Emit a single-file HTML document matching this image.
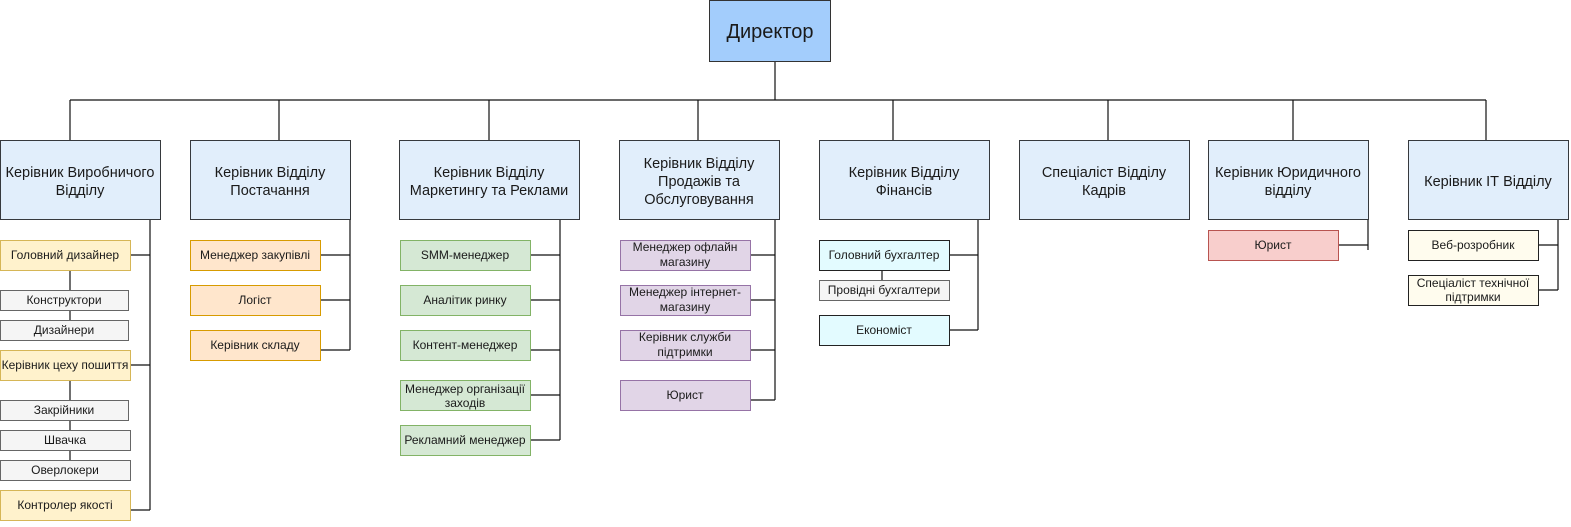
<!DOCTYPE html>
<html><head><meta charset="utf-8"><style>
html,body{margin:0;padding:0;background:#fff;}
svg text{font-family:"Liberation Sans",sans-serif;fill:#1a1a1a;}
</style></head><body>
<svg width="1571" height="522" xmlns="http://www.w3.org/2000/svg">
<g stroke="#111" stroke-width="1.2" fill="none">
<path d="M775 61V100M70 100H1486M70 100V140M279 100V140M489 100V140M698 100V140M893 100V140M1108 100V140M1293 100V140M1486 100V140"/>
<path d="M150 219V510M130 255H150M130 365H150M130 510H150M70 270V290M70 310V320M70 380V400M70 420V430M70 450V460"/>
<path d="M350 219V350M320 255H350M320 300H350M320 350H350"/>
<path d="M560 219V440M530 255H560M530 300H560M530 350H560M530 395H560M530 440H560"/>
<path d="M775 219V400M750 255H775M750 300H775M750 350H775M750 400H775"/>
<path d="M978 219V330M949 255H978M949 330H978M882 270V280"/>
<path d="M1368 219V250M1338 245H1368"/>
<path d="M1558 219V290M1538 245H1558M1538 290H1558"/>
</g>
<g stroke-width="1">
<rect x="709.5" y="0.5" width="121" height="61" fill="#a3cdfc" stroke="#333"/>
<g fill="#e1eefb" stroke="#36393d">
<rect x="0.5" y="140.5" width="160" height="79"/><rect x="190.5" y="140.5" width="160" height="79"/>
<rect x="399.5" y="140.5" width="180" height="79"/><rect x="619.5" y="140.5" width="160" height="79"/>
<rect x="819.5" y="140.5" width="170" height="79"/><rect x="1019.5" y="140.5" width="170" height="79"/>
<rect x="1208.5" y="140.5" width="160" height="79"/><rect x="1408.5" y="140.5" width="160" height="79"/>
</g>
<g fill="#fff2cc" stroke="#d6b656">
<rect x="0.5" y="240.5" width="130" height="30"/><rect x="0.5" y="350.5" width="130" height="30"/><rect x="0.5" y="490.5" width="130" height="30"/>
</g>
<g fill="#f5f5f5" stroke="#666">
<rect x="0.5" y="290.5" width="128" height="20"/><rect x="0.5" y="320.5" width="128" height="20"/>
<rect x="0.5" y="400.5" width="128" height="20"/><rect x="0.5" y="430.5" width="130" height="20"/><rect x="0.5" y="460.5" width="130" height="20"/>
<rect x="819.5" y="280.5" width="130" height="20"/>
</g>
<g fill="#ffe6cc" stroke="#d79b00">
<rect x="190.5" y="240.5" width="130" height="30"/><rect x="190.5" y="285.5" width="130" height="30"/><rect x="190.5" y="330.5" width="130" height="30"/>
</g>
<g fill="#d5e8d4" stroke="#82b366">
<rect x="400.5" y="240.5" width="130" height="30"/><rect x="400.5" y="285.5" width="130" height="30"/><rect x="400.5" y="330.5" width="130" height="30"/><rect x="400.5" y="380.5" width="130" height="30"/><rect x="400.5" y="425.5" width="130" height="30"/>
</g>
<g fill="#e1d5e7" stroke="#9673a6">
<rect x="620.5" y="240.5" width="130" height="30"/><rect x="620.5" y="285.5" width="130" height="30"/><rect x="620.5" y="330.5" width="130" height="30"/><rect x="620.5" y="380.5" width="130" height="30"/>
</g>
<g fill="#e3fbff" stroke="#222">
<rect x="819.5" y="240.5" width="130" height="30"/><rect x="819.5" y="315.5" width="130" height="30"/>
</g>
<rect x="1208.5" y="230.5" width="130" height="30" fill="#f8cecc" stroke="#b85450"/>
<g fill="#fffcee" stroke="#222">
<rect x="1408.5" y="230.5" width="130" height="30"/><rect x="1408.5" y="275.5" width="130" height="30"/>
</g>
</g>
<text x="770" y="38" font-size="20" text-anchor="middle">Директор</text>
<g font-size="14.5" text-anchor="middle">
<text x="80" y="177">Керівник Виробничого</text><text x="80" y="195">Відділу</text>
<text x="270" y="177">Керівник Відділу</text><text x="270" y="195">Постачання</text>
<text x="489" y="177">Керівник Відділу</text><text x="489" y="195">Маркетингу та Реклами</text>
<text x="699" y="168">Керівник Відділу</text><text x="699" y="186">Продажів та</text><text x="699" y="204">Обслуговування</text>
<text x="904" y="177">Керівник Відділу</text><text x="904" y="195">Фінансів</text>
<text x="1104" y="177">Спеціаліст Відділу</text><text x="1104" y="195">Кадрів</text>
<text x="1288" y="177">Керівник Юридичного</text><text x="1288" y="195">відділу</text>
<text x="1488" y="186">Керівник ІТ Відділу</text>
</g>
<g font-size="12" text-anchor="middle">
<text x="65" y="259">Головний дизайнер</text>
<text x="64" y="304" fill="#333">Конструктори</text>
<text x="64" y="334" fill="#333">Дизайнери</text>
<text x="65" y="369">Керівник цеху пошиття</text>
<text x="64" y="414" fill="#333">Закрійники</text>
<text x="65" y="444" fill="#333">Швачка</text>
<text x="65" y="474" fill="#333">Оверлокери</text>
<text x="65" y="509">Контролер якості</text>
<text x="255" y="259">Менеджер закупівлі</text>
<text x="255" y="304">Логіст</text>
<text x="255" y="349">Керівник складу</text>
<text x="465" y="259">SMM-менеджер</text>
<text x="465" y="304">Аналітик ринку</text>
<text x="465" y="349">Контент-менеджер</text>
<text x="465" y="393">Менеджер організації</text><text x="465" y="407">заходів</text>
<text x="465" y="444">Рекламний менеджер</text>
<text x="685" y="251">Менеджер офлайн</text><text x="685" y="266">магазину</text>
<text x="685" y="296">Менеджер інтернет-</text><text x="685" y="311">магазину</text>
<text x="685" y="341">Керівник служби</text><text x="685" y="356">підтримки</text>
<text x="685" y="399">Юрист</text>
<text x="884" y="259">Головний бухгалтер</text>
<text x="884" y="294" fill="#333">Провідні бухгалтери</text>
<text x="884" y="334">Економіст</text>
<text x="1273" y="249">Юрист</text>
<text x="1473" y="249">Веб-розробник</text>
<text x="1473" y="287">Спеціаліст технічної</text><text x="1473" y="301">підтримки</text>
</g>
</svg>
</body></html>
